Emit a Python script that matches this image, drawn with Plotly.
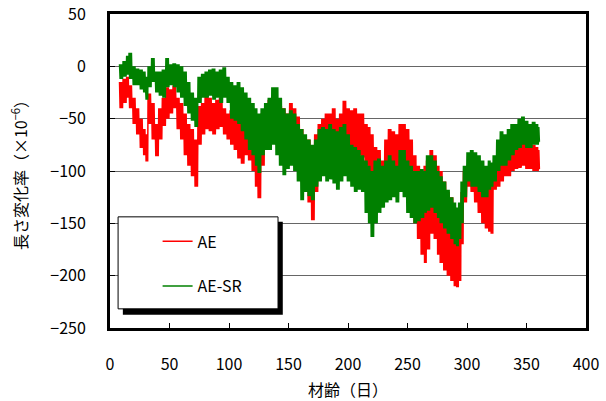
import plotly.graph_objects as go

# ---- data (envelope of the noisy daily signal) ----
days = [8, 11, 14, 16, 19, 22, 25, 28, 30, 32, 35, 38, 41, 44, 47, 50, 53, 56, 59, 62,
        65, 68, 71, 74, 77, 80, 83, 86, 89, 92, 95, 98, 101, 104, 107, 110, 113, 116, 119, 122,
        124, 127, 130, 133, 136, 139, 142, 145, 148, 151, 154, 157, 160, 163, 166, 169, 172, 175, 178, 181,
        184, 187, 190, 193, 196, 199, 202, 205, 208, 211, 214, 217, 219, 222, 225, 228, 231, 234, 237, 240,
        243, 246, 249, 252, 255, 258, 261, 264, 266, 269, 272, 275, 277, 280, 283, 286, 289, 291, 293, 295,
        297, 300, 303, 306, 309, 312, 315, 318, 320, 322, 325, 328, 331, 334, 337, 340, 343, 346, 349, 352,
        355, 358, 360]

ae_hi = [-15, -12, -10, -18, -30, -40, -50, -60, -65, -26, -35, -55, -40, -30, -20, -22, -18, -30, -35, -45,
         -55, -60, -70, -38, -35, -23, -30, -35, -32, -30, -40, -45, -42, -48, -50, -55, -60, -55, -60, -65,
         -70, -45, -40, -32, -30, -35, -38, -40, -45, -35, -40, -48, -60, -70, -70, -77, -65, -55, -50, -45,
         -45, -40, -50, -45, -33, -40, -42, -40, -45, -45, -55, -58, -65, -77, -80, -90, -70, -60, -62, -65,
         -55, -55, -60, -70, -85, -95, -100, -95, -90, -80, -85, -95, -100, -110, -120, -125, -135, -140, -135, -120,
         -100, -95, -100, -105, -110, -110, -115, -115, -110, -95, -90, -80, -80, -75, -72, -72, -70, -68, -72, -72,
         -75, -77, -80]
ae_lo = [-40, -35, -30, -40, -55, -65, -78, -85, -91, -55, -70, -86, -70, -57, -50, -45, -40, -60, -70, -85,
         -95, -105, -115, -75, -65, -60, -62, -65, -60, -58, -65, -70, -75, -80, -88, -93, -85, -90, -100, -115,
         -126, -95, -80, -70, -65, -75, -85, -90, -85, -80, -85, -95, -110, -120, -130, -147, -120, -95, -90, -85,
         -90, -85, -90, -85, -75, -80, -85, -80, -85, -87, -95, -100, -105, -110, -115, -120, -110, -100, -105, -105,
         -100, -100, -110, -130, -150, -165, -180, -188, -175, -160, -165, -180, -188, -195, -200, -205, -210, -211, -205, -170,
         -130, -115, -120, -130, -140, -150, -155, -158, -160, -118, -115, -110, -105, -105, -100, -98, -97, -95, -98, -98,
         -100, -100, -98]

aesr_hi = [2, 5, 10, 13, 0, -2, -3, -5, -10, 0, 8, -5, -5, -3, 8, 2, 3, 2, 0, -5,
           -15, -25, -30, -10, -7, -5, -3, -2, -5, -3, -1, -10, -15, -18, -15, -20, -25, -30, -35, -40,
           -45, -40, -35, -30, -20, -20, -30, -40, -45, -42, -45, -55, -60, -65, -70, -75, -70, -60, -58, -60,
           -55, -60, -62, -58, -55, -65, -75, -77, -80, -85, -90, -95, -100, -90, -88, -95, -90, -85, -90, -95,
           -80, -80, -90, -95, -100, -100, -98, -100, -85, -85, -90, -100, -105, -110, -118, -125, -130, -135, -130, -110,
           -95, -82, -80, -82, -85, -90, -95, -90, -92, -85, -70, -62, -65, -60, -55, -55, -50, -48, -52, -55,
           -53, -55, -58]
aesr_lo = [-12, -10, -8, -12, -18, -18, -22, -25, -32, -20, -15, -25, -28, -30, -20, -18, -20, -25, -30, -38,
           -45, -52, -58, -35, -30, -30, -28, -32, -30, -35, -30, -35, -50, -52, -55, -62, -70, -80, -85, -95,
           -102, -85, -80, -80, -75, -85, -95, -104, -98, -95, -100, -110, -128, -120, -124, -128, -115, -110, -105, -110,
           -108, -112, -118, -110, -105, -110, -115, -120, -118, -120, -140, -150, -163, -150, -140, -135, -130, -128, -125, -130,
           -120, -125, -140, -145, -150, -148, -145, -140, -138, -135, -140, -145, -150, -155, -160, -165, -170, -172, -165, -150,
           -125, -110, -115, -115, -120, -125, -125, -118, -115, -110, -100, -95, -95, -90, -85, -80, -78, -75, -78, -78,
           -75, -75, -72]

x_ticks = [0, 50, 100, 150, 200, 250, 300, 350, 400]
y_ticks = [-250, -200, -150, -100, -50, 0, 50]


def zigzag(d, hi, lo, reps=3):
    """Oscillate between each bin's read high and low values (daily cycle)."""
    xs, ys = [], []
    for i in range(len(d)):
        step = (d[i + 1] - d[i]) if i + 1 < len(d) else 1
        for k in range(reps):
            xs += [d[i] + step * (2 * k) / (2 * reps), d[i] + step * (2 * k + 1) / (2 * reps)]
            ys += [hi[i], lo[i]]
    return xs, ys


xr, yr = zigzag(days, ae_hi, ae_lo)
xg, yg = zigzag(days, aesr_hi, aesr_lo)

FONT = "Noto Sans CJK JP"

fig = go.Figure()
fig.add_trace(go.Scatter(x=xr, y=yr, mode="lines", name="AE", legendgroup="a",
                         line=dict(color="#FF0000", width=1.5)))
fig.add_trace(go.Scatter(x=xg, y=yg, mode="lines", name="AE-SR", legendgroup="b",
                         line=dict(color="#008000", width=1.5)))

# legend frame with drop shadow
fig.add_shape(type="rect", xref="paper", yref="paper", x0=0.027, x1=0.363, y0=0.042, y1=0.338,
              fillcolor="black", line=dict(width=0), layer="above")
fig.add_shape(type="rect", xref="paper", yref="paper", x0=0.017, x1=0.353, y0=0.061, y1=0.354,
              fillcolor="white", line=dict(color="black", width=1), layer="above")

fig.update_layout(
    width=606, height=401,
    margin=dict(l=110, r=20, t=14, b=73, autoexpand=False),
    plot_bgcolor="white", paper_bgcolor="white",
    font=dict(family=FONT, size=16, color="black"),
    showlegend=True,
    legend=dict(x=0.10, y=0.33, xanchor="left", yanchor="top",
                bgcolor="rgba(0,0,0,0)", borderwidth=0, tracegroupgap=21,
                font=dict(family=FONT, size=16)),
    xaxis=dict(range=[0, 400], tickvals=x_ticks, ticks="inside", ticklen=5, tickwidth=1,
               tickcolor="black", showline=True, linecolor="black", linewidth=3, mirror=True,
               showgrid=False, zeroline=False, ticklabelstandoff=20, automargin=False,
               title=dict(text="材齢（日）", font=dict(family=FONT, size=16), standoff=11)),
    yaxis=dict(range=[-250, 50], tickvals=y_ticks, ticks="inside", ticklen=5, tickwidth=1,
               tickcolor="black", showline=True, linecolor="black", linewidth=3, mirror=True,
               showgrid=True, gridcolor="#666666", gridwidth=1, zeroline=False,
               ticklabelstandoff=18, automargin=False,
               title=dict(text="長さ変化率（×10<sup>−6</sup>）", font=dict(family=FONT, size=16), standoff=19)),
)

fig.write_html("out.html")
